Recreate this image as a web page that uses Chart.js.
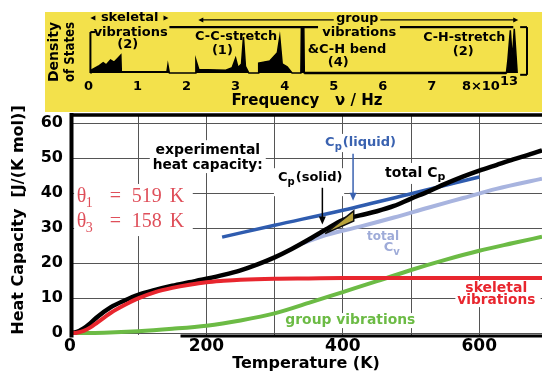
<!DOCTYPE html>
<html>
<head>
<meta charset="utf-8">
<script src="https://cdn.jsdelivr.net/npm/chart.js@4.4.1/dist/chart.umd.min.js"></script>
<style>
  html, body { margin: 0; padding: 0; background: #fff; }
  #wrap { position: relative; width: 542px; height: 373px; overflow: hidden; }
  #main { position: absolute; left: 0; top: 0; }
  #dos { position: absolute; left: 45px; top: 12px; background: #f3e14b; }
</style>
</head>
<body>
<div id="wrap">
  <canvas id="main" width="542" height="373"></canvas>
  <canvas id="dos" width="497" height="100"></canvas>
</div>
<script>
// heat capacity, J/(K mol), against temperature in K
var tempTotal = [0, 10, 20, 30, 40, 60, 80, 100, 125, 150, 175, 200, 225, 250, 275, 300, 325, 350, 375, 400, 425, 450, 475, 500, 525, 550, 575, 600, 625, 650, 675, 692];
var cpTotal = [0, 0.3, 1.3, 2.8, 4.6, 7.4, 9.3, 10.9, 12.3, 13.5, 14.5, 15.5, 16.6, 17.9, 19.6, 21.6, 24.0, 26.7, 29.6, 32.3, 33.6, 34.8, 36.3, 38.4, 40.4, 42.6, 44.6, 46.4, 48.0, 49.6, 51.1, 52.2];

var tempSkeletal = [0, 10, 20, 30, 40, 50, 60, 80, 100, 125, 150, 175, 200, 225, 250, 300, 350, 400, 500, 600, 692];
var skeletal = [0, 0.1, 0.6, 1.6, 3.0, 4.4, 5.8, 8.0, 9.9, 11.7, 12.9, 13.8, 14.5, 14.9, 15.2, 15.5, 15.6, 15.7, 15.7, 15.7, 15.7];

var tempGroup = [0, 50, 100, 150, 200, 250, 300, 350, 400, 450, 500, 550, 600, 650, 692];
var groupVib = [0, 0.1, 0.5, 1.2, 2.1, 3.6, 5.6, 8.6, 11.7, 14.8, 18.0, 20.9, 23.5, 25.7, 27.5];

var tempLiquid = [223, 300, 400, 500, 600];
var cpLiquid = [27.4, 30.8, 35.1, 39.8, 44.6];

var tempCv = [340, 375, 425, 475, 525, 575, 625, 692];
var cvTotal = [25.6, 28.0, 30.4, 33.0, 35.8, 38.5, 41.2, 44.1];

// melting excess (closed triangle)
var meltT = [374, 416, 416, 374];
var meltCp = [28.4, 34.9, 32.0, 28.4];

var tempGrid = [0, 100, 200, 300, 400, 500, 600];
var tempTickLabels = [0, 200, 400, 600];
var cpGrid = [0, 10, 20, 30, 40, 50, 60];

// density of states inset, frequency in 10^13 Hz
var dosFreq = [0.04, 0.05, 0.1, 0.2, 0.3, 0.36, 0.45, 0.52, 0.6, 0.66, 0.67, 1.6, 1.62, 1.65,
  2.18, 2.19, 2.25, 2.8, 2.93, 3.0, 3.05, 3.12, 3.16, 3.2, 3.27,
  3.46, 3.47, 3.7, 3.85, 3.9, 3.95, 4.05, 4.15,
  4.33, 4.34, 4.39, 4.4,
  8.52, 8.55, 8.6, 8.64, 8.68, 8.74];
var dosHeight = [0, 0.6, 0.9, 1.5, 2.3, 1.8, 2.9, 2.4, 3.3, 4.0, 0.3, 0.3, 1.8, 0,
  0, 2.9, 0.8, 0.6, 1.2, 3.3, 1.2, 2.0, 8.0, 1.5, 0,
  0, 2.2, 2.7, 4.5, 8.0, 2.0, 1.4, 0,
  0, 10.2, 10.2, 0,
  0, 2.9, 9.5, 2.9, 9.8, 0];
var dosTicks = [0, 1, 2, 3, 4, 5, 6, 7, 8];
var dosTickLabels = ['0', '1', '2', '3', '4', '5', '6', '7', '8×10'];

Chart.defaults.font.family = "'DejaVu Sans', sans-serif";
Chart.defaults.color = '#000';

var FONT = '"DejaVu Sans"';

function pts(xs, ys) {
  return xs.map(function (x, i) { return { x: x, y: ys[i] }; });
}

function fixedTicks(values) {
  return function (scale) {
    scale.ticks = values.map(function (v) { return { value: v }; });
  };
}

function curve(label, xs, ys, color, width, order) {
  return {
    label: label, data: pts(xs, ys), borderColor: color, borderWidth: width,
    pointRadius: 0, fill: false, cubicInterpolationMode: 'monotone', order: order
  };
}

function line(ctx, x1, y1, x2, y2) {
  ctx.beginPath(); ctx.moveTo(x1, y1); ctx.lineTo(x2, y2); ctx.stroke();
}

function subText(ctx, main, sub, rest, x, y, size) {
  ctx.textAlign = 'left';
  ctx.font = 'bold ' + size + 'px ' + FONT;
  ctx.fillText(main, x, y);
  var w = ctx.measureText(main).width;
  ctx.font = 'bold ' + Math.round(size * 0.75) + 'px ' + FONT;
  ctx.fillText(sub, x + w, y + size * 0.32);
  var w2 = ctx.measureText(sub).width;
  if (rest) {
    ctx.font = 'bold ' + size + 'px ' + FONT;
    ctx.fillText(rest, x + w + w2 + 1, y);
  }
}

// white patches behind labels: [T1, T2, v1, v2]
var clearBoxes = [[117, 287, 55.1, 45.7], [6, 180, 42.6, 27.7], [299, 402, 47.1, 39.1],
  [368, 475, 56.9, 51.7], [458, 559, 48.6, 42.6], [431, 490, 29.4, 22],
  [565, 690, 14.9, 7.4], [312, 510, 5.7, 1.4]];

var notes = {
  id: 'notes',
  beforeDatasetsDraw: function (chart) {
    var ctx = chart.ctx, sx = chart.scales.x, sy = chart.scales.y;
    ctx.save();
    ctx.fillStyle = '#fff';
    clearBoxes.forEach(function (b) {
      var x1 = sx.getPixelForValue(b[0]), x2 = sx.getPixelForValue(b[1]);
      var y1 = sy.getPixelForValue(b[2]), y2 = sy.getPixelForValue(b[3]);
      ctx.fillRect(x1, y1, x2 - x1, y2 - y1);
    });
    ctx.restore();
  },
  afterDatasetsDraw: function (chart) {
    var ctx = chart.ctx, sx = chart.scales.x, sy = chart.scales.y, a = chart.chartArea;
    function X(t) { return sx.getPixelForValue(t); }
    function Y(v) { return sy.getPixelForValue(v); }
    ctx.save();

    // frame
    ctx.strokeStyle = '#000';
    ctx.lineWidth = 4;
    line(ctx, a.left + 1.5, a.top - 2, a.left + 1.5, a.bottom + 2.5);
    ctx.lineWidth = 3.5;
    line(ctx, a.left, a.top, a.right, a.top);
    ctx.lineWidth = 3;
    line(ctx, X(162), a.bottom + 1, a.right, a.bottom + 1);

    ctx.textBaseline = 'middle';
    ctx.fillStyle = '#000';
    ctx.textAlign = 'center';
    ctx.font = 'bold 14px ' + FONT;
    ctx.fillText('experimental', X(202), Y(52.3), 108);
    ctx.fillText('heat capacity:', X(202), Y(48), 110);

    // Debye temperatures
    ctx.fillStyle = '#df4f5a';
    ctx.textAlign = 'left';
    function theta(x, y, sub, num) {
      ctx.font = '20px "Liberation Serif"';
      ctx.fillText('θ', x, y);
      ctx.font = '14px "Liberation Serif"';
      ctx.fillText(sub, x + 9, y + 6);
      ctx.font = '20px "Liberation Serif"';
      ctx.fillText('=', x + 33, y);
      ctx.fillText(num, x + 55, y);
      ctx.fillText('K', x + 93, y);
    }
    theta(X(10), Y(38.9), '1', '519');
    theta(X(10), Y(31.7), '3', '158');

    // curve labels
    ctx.fillStyle = '#000';
    subText(ctx, 'C', 'p', '(solid)', X(305), Y(44.3), 13);
    subText(ctx, 'total C', 'p', '', X(462), Y(45.7), 14);
    ctx.fillStyle = '#3a62b0';
    subText(ctx, 'C', 'p', '(liquid)', X(374), Y(54.3), 13);

    ctx.fillStyle = '#9eabd8';
    ctx.textAlign = 'center';
    ctx.font = 'bold 12px ' + FONT;
    ctx.fillText('total', X(459), Y(27.4), 34);
    subText(ctx, 'C', 'v', '', X(460), Y(24.3), 13);

    ctx.fillStyle = '#e8262e';
    ctx.textAlign = 'center';
    ctx.font = 'bold 14px ' + FONT;
    ctx.fillText('skeletal', X(625), Y(12.9), 62);
    ctx.fillText('vibrations', X(625), Y(9.4), 78);

    ctx.fillStyle = '#6cbb45';
    ctx.fillText('group vibrations', X(411), Y(3.7), 130);

    // arrows
    function arrow(t, v1, v2, color) {
      var x = X(t), y1 = Y(v1), y2 = Y(v2);
      ctx.strokeStyle = color; ctx.fillStyle = color; ctx.lineWidth = 1.5;
      line(ctx, x, y1, x, y2 - 6);
      ctx.beginPath();
      ctx.moveTo(x - 3.5, y2 - 8); ctx.lineTo(x + 3.5, y2 - 8); ctx.lineTo(x, y2);
      ctx.closePath(); ctx.fill();
    }
    arrow(415, 51.2, 37.8, '#3a62b0');
    arrow(370, 41.5, 31, '#000');

    ctx.restore();
  },
  afterDraw: function (chart) {
    var ctx = chart.ctx;
    ctx.save();
    ctx.translate(19, 220);
    ctx.rotate(-Math.PI / 2);
    ctx.fillStyle = '#000';
    ctx.textAlign = 'center';
    ctx.textBaseline = 'middle';
    ctx.font = 'bold 16px ' + FONT;
    ctx.fillText('Heat Capacity  [J/(K mol)]', 0, 0, 244);
    ctx.restore();
  }
};

var tickFont = { family: "'DejaVu Sans'", size: 16, weight: 'bold' };

new Chart(document.getElementById('main'), {
  type: 'line',
  data: {
    datasets: [
      {
        label: 'melting', data: pts(meltT, meltCp), borderColor: '#111', borderWidth: 1.5,
        backgroundColor: '#b9a33c', fill: 'shape', pointRadius: 0, tension: 0, order: 0
      },
      curve('skeletal vibrations', tempSkeletal, skeletal, '#e8262e', 4, 1),
      curve('total Cp', tempTotal, cpTotal, '#000', 4.5, 2),
      curve('Cp(liquid)', tempLiquid, cpLiquid, '#2f5caf', 3.5, 3),
      curve('total Cv', tempCv, cvTotal, '#a8b4df', 4, 4),
      curve('group vibrations', tempGroup, groupVib, '#6cbb45', 4, 5)
    ]
  },
  options: {
    responsive: false,
    animation: false,
    devicePixelRatio: 1,
    layout: { padding: { top: 115, left: 0, right: 0, bottom: 0 } },
    plugins: { legend: { display: false }, tooltip: { enabled: false } },
    scales: {
      x: {
        type: 'linear', min: 0, max: 692,
        afterBuildTicks: fixedTicks(tempGrid),
        afterFit: function (s) { s.height = 38; },
        grid: { color: '#555', lineWidth: 1, drawTicks: false },
        border: { display: false },
        ticks: {
          autoSkip: false, maxRotation: 0, padding: 1,
          font: { family: "'DejaVu Sans'", size: 17, weight: 'bold' },
          callback: function (v) { return tempTickLabels.indexOf(v) >= 0 ? String(v) : ''; }
        },
        title: {
          display: true, text: 'Temperature (K)', padding: { top: 0, bottom: 0 },
          font: { family: "'DejaVu Sans'", size: 16, weight: 'bold' }
        }
      },
      y: {
        min: -0.57, max: 62.3,
        afterBuildTicks: fixedTicks(cpGrid),
        afterFit: function (s) { s.width = 70; },
        grid: { color: '#555', lineWidth: 1, drawTicks: false },
        border: { display: false },
        ticks: { autoSkip: false, padding: 7, font: tickFont }
      }
    }
  },
  plugins: [notes]
});

// inset: density of states
var dosNotes = {
  id: 'dosNotes',
  afterDatasetsDraw: function (chart) {
    var ctx = chart.ctx, sx = chart.scales.x, sy = chart.scales.y, a = chart.chartArea;
    function X(v) { return sx.getPixelForValue(v); }
    function Y(v) { return sy.getPixelForValue(v); }
    function seg(x1, y1, x2, y2) { line(ctx, X(x1), Y(y1), X(x2), Y(y2)); }
    function tri(f, h, dir) {
      var x = X(f), y = Y(h);
      ctx.beginPath();
      ctx.moveTo(x + dir * 3, y); ctx.lineTo(x - dir * 2, y - 2.5); ctx.lineTo(x - dir * 2, y + 2.5);
      ctx.closePath(); ctx.fill();
    }
    ctx.save();
    ctx.strokeStyle = '#000';
    ctx.fillStyle = '#000';

    ctx.lineWidth = 2.2;
    seg(1.65, 10.2, 4.68, 10.2);
    seg(6.35, 10.2, 8.66, 10.2);
    ctx.lineWidth = 2;
    seg(0.04, 0, 0.04, 9.1); seg(0.04, 9.1, 0.14, 9.1);
    seg(8.94, -0.4, 8.94, 10.2); seg(8.8, 10.2, 8.94, 10.2); seg(8.8, -0.4, 8.94, -0.4);
    ctx.lineWidth = 2.5;
    seg(4.4, 0, 8.52, 0);

    ctx.lineWidth = 1.2;
    seg(2.3, 11.8, 5.0, 11.8); seg(5.95, 11.8, 8.7, 11.8);
    tri(2.3, 11.8, -1); tri(8.7, 11.8, 1);
    tri(0.1, 12.2, -1); tri(1.57, 12.2, 1);

    ctx.textAlign = 'center';
    ctx.textBaseline = 'middle';
    ctx.font = 'bold 13px ' + FONT;
    ctx.fillText('skeletal', X(0.84), Y(12.2), 58);
    ctx.fillText('vibrations', X(0.86), Y(8.9), 75);
    ctx.fillText('(2)', X(0.8), Y(6.2));
    ctx.fillText('C-C-stretch', X(3.01), Y(8.0), 82);
    ctx.fillText('(1)', X(2.73), Y(4.9));
    ctx.fillText('group', X(5.48), Y(12.0), 42);
    ctx.fillText('vibrations', X(5.52), Y(8.9), 78);
    ctx.fillText('&C-H bend', X(5.27), Y(5.1), 80);
    ctx.fillText('(4)', X(5.09), Y(2.2));
    ctx.fillText('C-H-stretch', X(7.66), Y(7.8), 82);
    ctx.fillText('(2)', X(7.64), Y(4.7));

    // exponent of the last tick label
    ctx.textAlign = 'left';
    ctx.fillText('13', X(8) + 19, a.bottom + 8);

    // y title
    ctx.save();
    ctx.translate(a.left - 32, Y(4.67));
    ctx.rotate(-Math.PI / 2);
    ctx.textAlign = 'center';
    ctx.font = 'bold 14px ' + FONT;
    ctx.fillText('Density', 0, 0, 62);
    ctx.restore();
    ctx.save();
    ctx.translate(a.left - 16, Y(4.67));
    ctx.rotate(-Math.PI / 2);
    ctx.textAlign = 'center';
    ctx.font = 'bold 14px ' + FONT;
    ctx.fillText('of States', 0, 0, 60);
    ctx.restore();

    ctx.restore();
  }
};

new Chart(document.getElementById('dos'), {
  type: 'line',
  data: {
    datasets: [{
      label: 'density of states', data: pts(dosFreq, dosHeight),
      borderColor: '#000', borderWidth: 1.5, backgroundColor: '#000',
      fill: 'origin', pointRadius: 0, tension: 0
    }]
  },
  options: {
    responsive: false,
    animation: false,
    devicePixelRatio: 1,
    layout: { padding: { top: 13, left: 41, right: 14, bottom: 0 } },
    plugins: { legend: { display: false }, tooltip: { enabled: false } },
    scales: {
      x: {
        type: 'linear', min: -0.05, max: 8.96,
        afterBuildTicks: fixedTicks(dosTicks),
        afterFit: function (s) { s.height = 38; },
        grid: { display: false, drawTicks: false },
        border: { display: false },
        ticks: {
          autoSkip: false, maxRotation: 0, padding: 5,
          font: { family: "'DejaVu Sans'", size: 13, weight: 'bold' },
          callback: function (v, i) { return dosTickLabels[i]; }
        },
        title: {
          display: true, text: 'Frequency   ν / Hz', padding: { top: 0, bottom: 2 },
          font: { family: "'DejaVu Sans'", size: 15, weight: 'bold' }
        }
      },
      y: { display: false, min: -0.22, max: 10.67 }
    }
  },
  plugins: [dosNotes]
});
</script>
</body>
</html>
